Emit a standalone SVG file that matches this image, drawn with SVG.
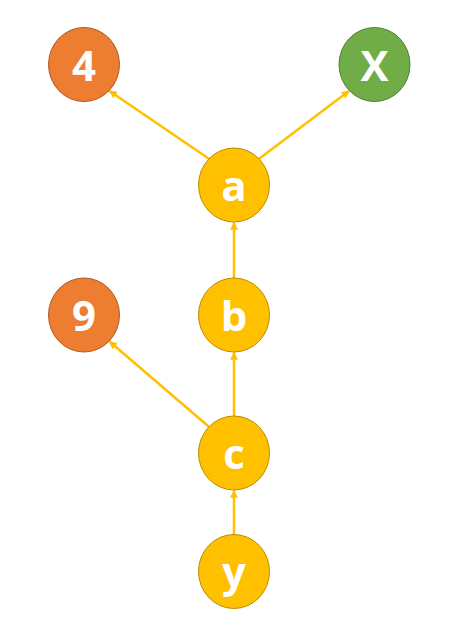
<svg xmlns="http://www.w3.org/2000/svg" width="455" height="621" viewBox="0 0 455 621">
  <style>
    .orange { fill: #ED7D31; stroke: #AE5A21; stroke-width: 1; }
    .green { fill: #70AD47; stroke: #507E32; stroke-width: 1; }
    .yellow { fill: #FFC000; stroke: #BC8C00; stroke-width: 1; }
    .lbl { fill: #FFFFFF; font-family: "Open Sans", "Noto Sans", sans-serif; font-weight: bold; font-size: 42px; text-anchor: middle; }
    .edge { stroke: #FFC000; stroke-width: 2.5; fill: none; marker-end: url(#arrow); }
  </style>
  <defs>
    <marker id="arrow" viewBox="0 0 10 10" refX="9" refY="5" markerWidth="9" markerHeight="8" markerUnits="userSpaceOnUse" orient="auto">
      <path d="M0,0 L10,5 L0,10 z" fill="#FFC000"/>
    </marker>
  </defs>
  <rect width="455" height="621" fill="#FFFFFF"/>
  <g id="connectors">
    <line class="edge" x1="208.9" y1="158.8" x2="109.5" y2="91"/>
    <line class="edge" x1="259.1" y1="158.8" x2="349" y2="91"/>
    <line class="edge" x1="234" y1="278" x2="234" y2="222.5"/>
    <line class="edge" x1="234" y1="416" x2="234" y2="352.5"/>
    <line class="edge" x1="208.9" y1="426.8" x2="109.5" y2="341.5"/>
    <line class="edge" x1="234" y1="534.5" x2="234" y2="490.5"/>
  </g>
  <g id="node-4">
    <ellipse class="orange" cx="84" cy="64.5" rx="35.5" ry="37"/>
    <text class="lbl" x="84" y="80.5">4</text>
  </g>
  <g id="node-X">
    <ellipse class="green" cx="374.5" cy="64.5" rx="35.5" ry="37"/>
    <text class="lbl" x="374.5" y="80.5">X</text>
  </g>
  <g id="node-a">
    <ellipse class="yellow" cx="234" cy="185" rx="35.5" ry="37"/>
    <text class="lbl" x="234" y="201">a</text>
  </g>
  <g id="node-9">
    <ellipse class="orange" cx="84" cy="315" rx="35.5" ry="37"/>
    <text class="lbl" x="84" y="331">9</text>
  </g>
  <g id="node-b">
    <ellipse class="yellow" cx="234" cy="315" rx="35.5" ry="37"/>
    <text class="lbl" x="234" y="331">b</text>
  </g>
  <g id="node-c">
    <ellipse class="yellow" cx="234" cy="453" rx="35.5" ry="37"/>
    <text class="lbl" x="234" y="469">c</text>
  </g>
  <g id="node-y">
    <ellipse class="yellow" cx="234" cy="571.5" rx="35.5" ry="37"/>
    <text class="lbl" x="234" y="587">y</text>
  </g>
</svg>
